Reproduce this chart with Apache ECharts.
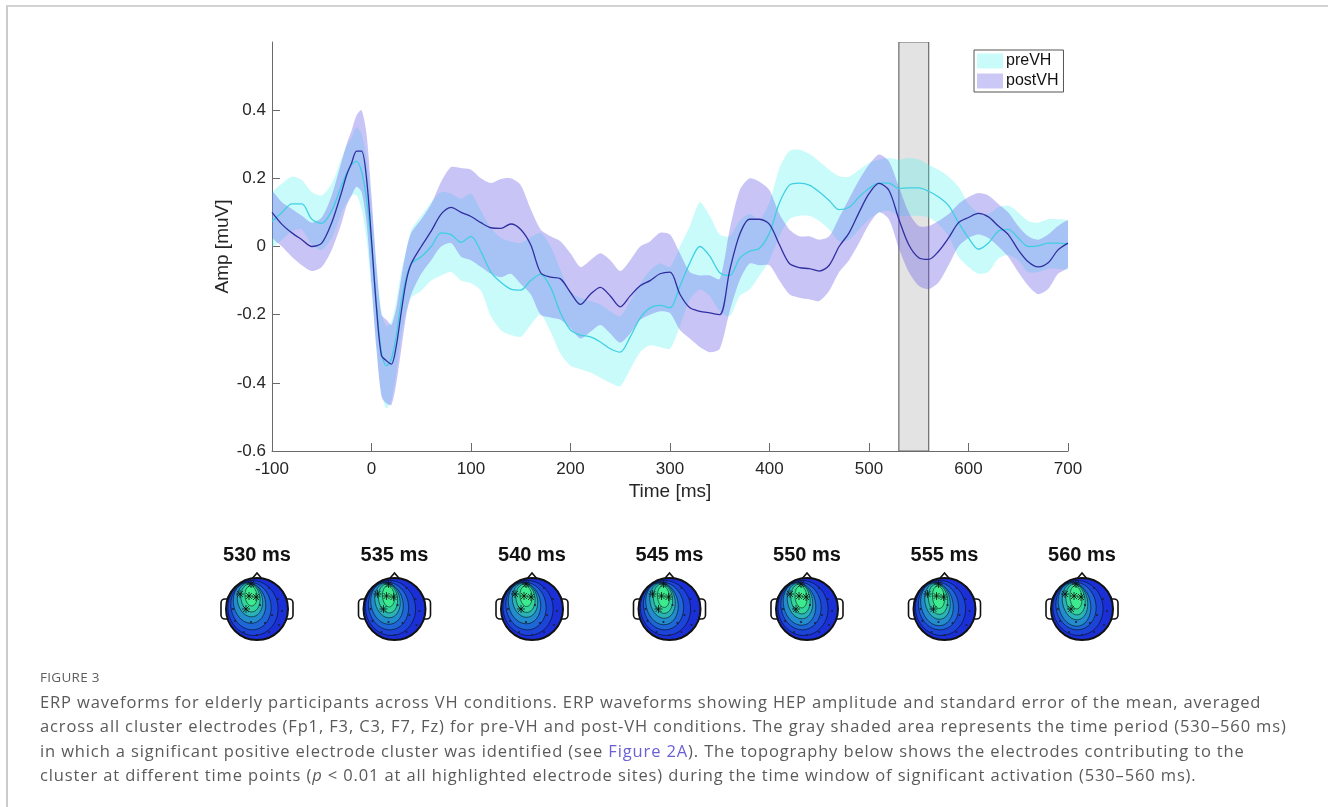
<!DOCTYPE html>
<html>
<head>
<meta charset="utf-8">
<script src="https://cdn.jsdelivr.net/npm/echarts@6/dist/echarts.min.js"></script>
<style>
html,body{margin:0;padding:0;background:#fff;width:1328px;height:807px;overflow:hidden;}
#chart{position:absolute;left:0;top:0;width:1328px;height:660px;}
.frame{position:absolute;left:6px;top:5px;right:-4px;bottom:-4px;border-top:2px solid #d3d3d3;border-left:2px solid #cbcbcb;pointer-events:none;}
.fig{position:absolute;left:40px;font-family:"Open Sans",sans-serif;font-size:13.5px;color:#5e5e5e;letter-spacing:0.3px;white-space:nowrap;}
.cap{position:absolute;left:40px;font-family:"Open Sans",sans-serif;font-size:16.5px;letter-spacing:0.87px;color:#5a5a5a;white-space:nowrap;line-height:20px;}
.cap a{color:#6a5fd6;text-decoration:none;}
</style>
</head>
<body>
<div id="chart"></div>
<div class="frame"></div>
<div class="fig" style="top:668px">FIGURE 3</div>
<div class="cap" style="top:692px">ERP waveforms for elderly participants across VH conditions. ERP waveforms showing HEP amplitude and standard error of the mean, averaged</div>
<div class="cap" style="top:716px">across all cluster electrodes (Fp1, F3, C3, F7, Fz) for pre-VH and post-VH conditions. The gray shaded area represents the time period (530–560 ms)</div>
<div class="cap" style="top:741px">in which a significant positive electrode cluster was identified (see <a>Figure 2A</a>). The topography below shows the electrodes contributing to the</div>
<div class="cap" style="top:765px">cluster at different time points (<i>p</i> &lt; 0.01 at all highlighted electrode sites) during the time window of significant activation (530–560 ms).</div>
<script>
// ---------------- data ----------------
const times = [-100,-90,-80,-70,-60,-50,-40,-30,
  -25,-20,-15,-10,-5,0,5,10,15,20,25,30,35,
  40,50,60,70,80,90,100,110,120,130,140,150,160,170,180,190,200,210,220,230,240,250,260,270,280,290,300,
  310,320,330,340,350,360,370,380,390,400,410,420,430,440,450,460,470,480,490,500,510,520,530,540,550,560,
  570,580,590,600,610,620,630,640,650,660,670,680,690,700];

const preMean = [0.074,0.10,0.125,0.125,0.08,0.068,0.105,0.18,
  0.215,0.24,0.25,0.22,0.14,0.0,-0.17,-0.31,-0.35,-0.33,-0.26,-0.16,-0.09,
  -0.05,-0.03,0.0,0.04,0.035,0.012,0.03,-0.015,-0.075,-0.105,
  -0.125,-0.128,-0.1,-0.082,-0.12,-0.195,-0.245,-0.26,-0.265,-0.28,
  -0.3,-0.31,-0.265,-0.21,-0.18,-0.173,-0.18,-0.116,-0.048,0.0,
  -0.028,-0.077,-0.085,-0.035,-0.014,-0.005,0.04,0.128,0.18,0.186,
  0.18,0.16,0.135,0.108,0.115,0.145,0.17,0.186,0.186,0.17,
  0.172,0.172,0.162,0.145,0.12,0.07,0.025,-0.008,0.01,0.045,
  0.05,0.025,0.0,0.002,0.01,0.01,0.008];
const preUpper = [0.155,0.185,0.205,0.195,0.16,0.15,0.185,0.26,
  0.295,0.32,0.35,0.33,0.26,0.12,-0.05,-0.19,-0.235,-0.22,-0.16,-0.07,-0.01,
  0.05,0.09,0.13,0.16,0.155,0.14,0.155,0.105,0.055,0.025,
  0.015,0.01,0.027,0.04,0.0,-0.07,-0.135,-0.15,-0.16,-0.17,
  -0.19,-0.205,-0.16,-0.11,-0.07,-0.05,-0.06,0.0,0.06,0.13,
  0.09,0.035,0.03,0.075,0.095,0.08,0.13,0.23,0.28,0.284,
  0.272,0.25,0.225,0.206,0.205,0.225,0.245,0.255,0.26,0.255,
  0.26,0.255,0.24,0.225,0.205,0.175,0.125,0.1,0.095,0.115,
  0.12,0.1,0.075,0.07,0.08,0.08,0.075];
const preLower = [0.0,0.02,0.045,0.05,0.005,-0.01,0.025,0.1,
  0.13,0.15,0.15,0.11,0.02,-0.13,-0.3,-0.43,-0.475,-0.45,-0.37,-0.26,-0.19,
  -0.15,-0.13,-0.1,-0.085,-0.075,-0.1,-0.108,-0.13,-0.205,-0.245,
  -0.26,-0.265,-0.23,-0.2,-0.25,-0.315,-0.35,-0.36,-0.37,-0.385,
  -0.4,-0.41,-0.36,-0.31,-0.29,-0.295,-0.3,-0.233,-0.155,-0.126,
  -0.145,-0.19,-0.205,-0.145,-0.126,-0.085,-0.04,0.03,0.08,0.09,
  0.09,0.075,0.05,0.015,0.02,0.05,0.08,0.1,0.105,0.09,
  0.09,0.09,0.085,0.065,0.03,-0.03,-0.06,-0.08,-0.075,-0.035,
  -0.025,-0.04,-0.075,-0.075,-0.065,-0.065,-0.065];

const postMean = [0.10,0.065,0.04,0.02,0.0,0.01,0.07,0.16,
  0.21,0.245,0.28,0.28,0.2,0.02,-0.18,-0.32,-0.335,-0.345,-0.29,-0.19,-0.1,
  -0.05,0.0,0.045,0.095,0.115,0.1,0.088,0.07,0.055,0.053,
  0.066,0.05,0.005,-0.077,-0.09,-0.095,-0.135,-0.17,-0.14,-0.12,
  -0.145,-0.177,-0.145,-0.115,-0.1,-0.08,-0.075,-0.14,-0.18,-0.19,
  -0.195,-0.2,-0.07,0.035,0.08,0.08,0.065,0.005,-0.05,-0.062,
  -0.065,-0.072,-0.055,0.0,0.04,0.1,0.155,0.185,0.165,0.08,
  0.005,-0.033,-0.038,-0.014,0.025,0.07,0.085,0.097,0.087,0.06,
  0.035,-0.01,-0.045,-0.06,-0.048,-0.01,0.01];
const postUpper = [0.16,0.13,0.11,0.09,0.07,0.085,0.15,0.25,
  0.3,0.34,0.385,0.4,0.33,0.15,-0.06,-0.2,-0.215,-0.23,-0.18,-0.09,-0.01,
  0.04,0.08,0.125,0.19,0.233,0.23,0.225,0.2,0.186,0.198,
  0.2,0.18,0.11,0.05,0.03,0.015,-0.02,-0.06,-0.04,-0.02,
  -0.04,-0.072,-0.04,0.0,0.015,0.04,0.035,-0.02,-0.075,-0.085,
  -0.085,-0.095,0.05,0.165,0.2,0.19,0.165,0.095,0.05,0.03,
  0.03,0.02,0.03,0.085,0.14,0.195,0.24,0.27,0.25,0.175,
  0.1,0.06,0.06,0.075,0.095,0.125,0.145,0.157,0.15,0.125,
  0.1,0.06,0.03,0.02,0.035,0.06,0.075];
const postLower = [0.03,0.0,-0.03,-0.055,-0.072,-0.06,-0.01,0.07,
  0.12,0.15,0.175,0.16,0.07,-0.11,-0.3,-0.44,-0.46,-0.465,-0.4,-0.3,-0.2,
  -0.14,-0.08,-0.04,0.0,0.01,-0.03,-0.04,-0.06,-0.08,-0.09,
  -0.08,-0.11,-0.14,-0.2,-0.208,-0.215,-0.24,-0.27,-0.25,-0.23,
  -0.255,-0.282,-0.255,-0.215,-0.2,-0.19,-0.195,-0.245,-0.27,-0.295,
  -0.31,-0.3,-0.19,-0.1,-0.05,-0.055,-0.055,-0.1,-0.14,-0.15,
  -0.155,-0.16,-0.13,-0.075,-0.04,0.01,0.065,0.1,0.08,-0.005,
  -0.075,-0.115,-0.125,-0.105,-0.055,0.0,0.025,0.035,0.025,0.0,
  -0.03,-0.075,-0.115,-0.14,-0.125,-0.08,-0.06];

const yTickValues = [-0.6,-0.4,-0.2,0,0.2,0.4];
const sigWindow = [530, 560];
const legendNames = ['preVH', 'postVH'];
const topoLabels = ['530 ms','535 ms','540 ms','545 ms','550 ms','555 ms','560 ms'];

// ---------------- helpers ----------------
const pairs = arr => times.map((t, i) => [t, arr[i]]);

const FONT = '"Liberation Sans", Arial, Helvetica, sans-serif';
const preFill = 'rgba(64,240,240,0.28)';
const postFill = 'rgba(105,95,230,0.37)';

function bandSeries(name, upper, lower, fill, z) {
  return {
    name: name, type: 'custom', z: z, silent: true, clip: true,
    data: times.map((t, i) => [t, lower[i], upper[i]]),
    encode: {x: 0, y: [1, 2]},
    color: fill,
    renderItem: function (params, api) {
      if (params.dataIndex !== 0) return null;
      const top = times.map((t, i) => api.coord([t, upper[i]]));
      const bot = times.map((t, i) => api.coord([t, lower[i]])).reverse();
      return {type: 'polygon', shape: {points: top.concat(bot), smooth: 0.25},
        style: {fill: fill, stroke: null}};
    }
  };
}

function headGraphics(i) {
  const cx = 257 + i * 137.5, cy = 609, r = 31;
  const els = [];
  els.push({type:'text', x:cx, y:555, z:10,
    style:{text:topoLabels[i], font:'bold 20px ' + FONT, fill:'#111',
      textAlign:'center', textVerticalAlign:'middle', align:'center', verticalAlign:'middle'}});
  els.push({type:'rect', z:10, shape:{x:cx-36, y:cy-10, width:9, height:20, r:[4,0,0,4]},
    style:{fill:'#fff', stroke:'#111', lineWidth:1.6}});
  els.push({type:'rect', z:10, shape:{x:cx+27, y:cy-10, width:9, height:20, r:[0,4,4,0]},
    style:{fill:'#fff', stroke:'#111', lineWidth:1.6}});
  els.push({type:'polygon', z:10, shape:{points:[[cx-6,cy-29],[cx,cy-36],[cx+6,cy-29]]},
    style:{fill:'#fff', stroke:'#111', lineWidth:1.6}});
  els.push({type:'circle', z:11, shape:{cx:cx, cy:cy, r:r}, style:{fill:'#1a2fd6'}});
  const k = [0, 1, 0.5, 1.5, 2, 2.5, 3][i];
  const layers = [
    {dx:-4, dy:-1, rx:25, ry:27.5, rot:0.15, c:'#1c45d8'},
    {dx:-6, dy:-3, rx:20, ry:24, rot:0.2, c:'#1f66d6'},
    {dx:-7.5, dy:-6, rx:16, ry:20.5, rot:0.22, c:'#238ccd'},
    {dx:-8, dy:-9, rx:12.5, ry:17, rot:0.2, c:'#2ab2b6'},
    {dx:-7.5, dy:-11, rx:9.5, ry:14, rot:0.15, c:'#33d49c'},
    {dx:-7, dy:-13, rx:6, ry:10, rot:0.1, c:'#3deb8e'}
  ];
  layers.forEach((L, j) => {
    const grow = j > 1 ? k * 0.5 : 0;
    els.push({type:'ellipse', z:12, x:cx + L.dx + (j>2 ? 1 : 0), y:cy + L.dy + grow, rotation:L.rot,
      shape:{cx:0, cy:0, rx:L.rx, ry:L.ry + grow},
      style:{fill:L.c, stroke:'rgba(0,0,0,0.7)', lineWidth:0.7}});
  });
  const dots = [[12,-21],[21,-10],[25,2],[15,6],[-22,12],[-6,13],[8,14],[-13,23],[0,26],[12,23],[22,16],[-24,0],[3,-4]];
  dots.forEach(d => els.push({type:'circle', z:13, shape:{cx:cx+d[0], cy:cy+d[1], r:1.1}, style:{fill:'#202040'}}));
  const stars = [[-6,-25],[-17,-15],[-1,-12],[-11,0],[-8,-13]];
  stars.forEach(s => {
    const sx = cx + s[0], sy = cy + s[1];
    [[-4,0,4,0],[0,-4,0,4],[-3,-3,3,3],[-3,3,3,-3]].forEach(l => {
      els.push({type:'line', z:13, shape:{x1:sx+l[0], y1:sy+l[1], x2:sx+l[2], y2:sy+l[3]},
        style:{stroke:'#111', lineWidth:0.8}});
    });
  });
  els.push({type:'circle', z:14, shape:{cx:cx, cy:cy, r:r}, style:{fill:null, stroke:'#111', lineWidth:2}});
  return els;
}

const graphics = [];
topoLabels.forEach((_, i) => graphics.push(...headGraphics(i)));

const chart = echarts.init(document.getElementById('chart'), null, {renderer:'canvas'});
chart.setOption({
  animation: false,
  backgroundColor: 'transparent',
  textStyle: {fontFamily: FONT},
  grid: {left: 272, top: 42, width: 796, height: 409, containLabel: false},
  legend: {
    orient: 'vertical', left: 974, top: 50,
    padding: [3, 5, 3, 3], itemGap: 4, itemWidth: 26, itemHeight: 15,
    borderColor: '#555', borderWidth: 1, backgroundColor: '#fff',
    textStyle: {fontSize: 16, color: '#111', fontFamily: FONT, padding: [0, 0, 0, -2]},
    data: [
      {name: legendNames[0], icon: 'rect', itemStyle: {color: '#c9fbfb', borderWidth: 0}},
      {name: legendNames[1], icon: 'rect', itemStyle: {color: '#cbc8f5', borderWidth: 0}}
    ],
    selectedMode: false
  },
  xAxis: {
    type: 'value', min: -100, max: 700, interval: 100,
    name: 'Time [ms]', nameLocation: 'middle', nameGap: 31, nameMoveOverlap: false,
    nameTextStyle: {fontSize: 19, color: '#262626', fontFamily: FONT},
    axisLine: {show: true, onZero: false, lineStyle: {color: '#6a6a6a', width: 1}},
    axisTick: {show: true, inside: true, length: 8, lineStyle: {color: '#6a6a6a'}},
    axisLabel: {fontSize: 17, color: '#262626', margin: 10, fontFamily: FONT},
    splitLine: {show: false}
  },
  yAxis: {
    type: 'value', min: -0.6, max: 0.6, interval: 0.2,
    name: 'Amp [muV]', nameLocation: 'middle', nameGap: 40, nameRotate: 90, nameMoveOverlap: false,
    nameTextStyle: {fontSize: 19, color: '#262626', fontFamily: FONT},
    axisLine: {show: true, onZero: false, lineStyle: {color: '#6a6a6a', width: 1}},
    axisTick: {show: true, inside: true, length: 8, lineStyle: {color: '#6a6a6a'}, customValues: yTickValues},
    axisLabel: {fontSize: 17, color: '#262626', margin: 6, fontFamily: FONT, customValues: yTickValues,
      formatter: v => (v > 0.5 ? '' : String(Math.round(v * 10) / 10))},
    splitLine: {show: false}
  },
  graphic: {elements: graphics},
  series: [
    {name: 'sigWindow', type: 'custom', z: 1, silent: true, clip: true,
      data: [[sigWindow[0], sigWindow[1]]], encode: {x: [0, 1]},
      renderItem: function (params, api) {
        const p0 = api.coord([api.value(0), 0.6]);
        const p1 = api.coord([api.value(1), -0.6]);
        return {type: 'rect', shape: {x: p0[0], y: p0[1], width: p1[0] - p0[0], height: p1[1] - p0[1]},
          style: {fill: '#e3e3e3', stroke: '#6b6b6b', lineWidth: 1.2}};
      }},
    bandSeries(legendNames[0], preUpper, preLower, preFill, 2),
    bandSeries(legendNames[1], postUpper, postLower, postFill, 3),
    {name: 'preVH mean', type: 'line', z: 4, data: pairs(preMean), symbol: 'none', smooth: 0.3, silent: true,
      lineStyle: {color: '#3fcfe3', width: 1.3}},
    {name: 'postVH mean', type: 'line', z: 5, data: pairs(postMean), symbol: 'none', smooth: 0.3, silent: true,
      lineStyle: {color: '#2f2fa0', width: 1.3}}
  ]
});
</script>
</body>
</html>
